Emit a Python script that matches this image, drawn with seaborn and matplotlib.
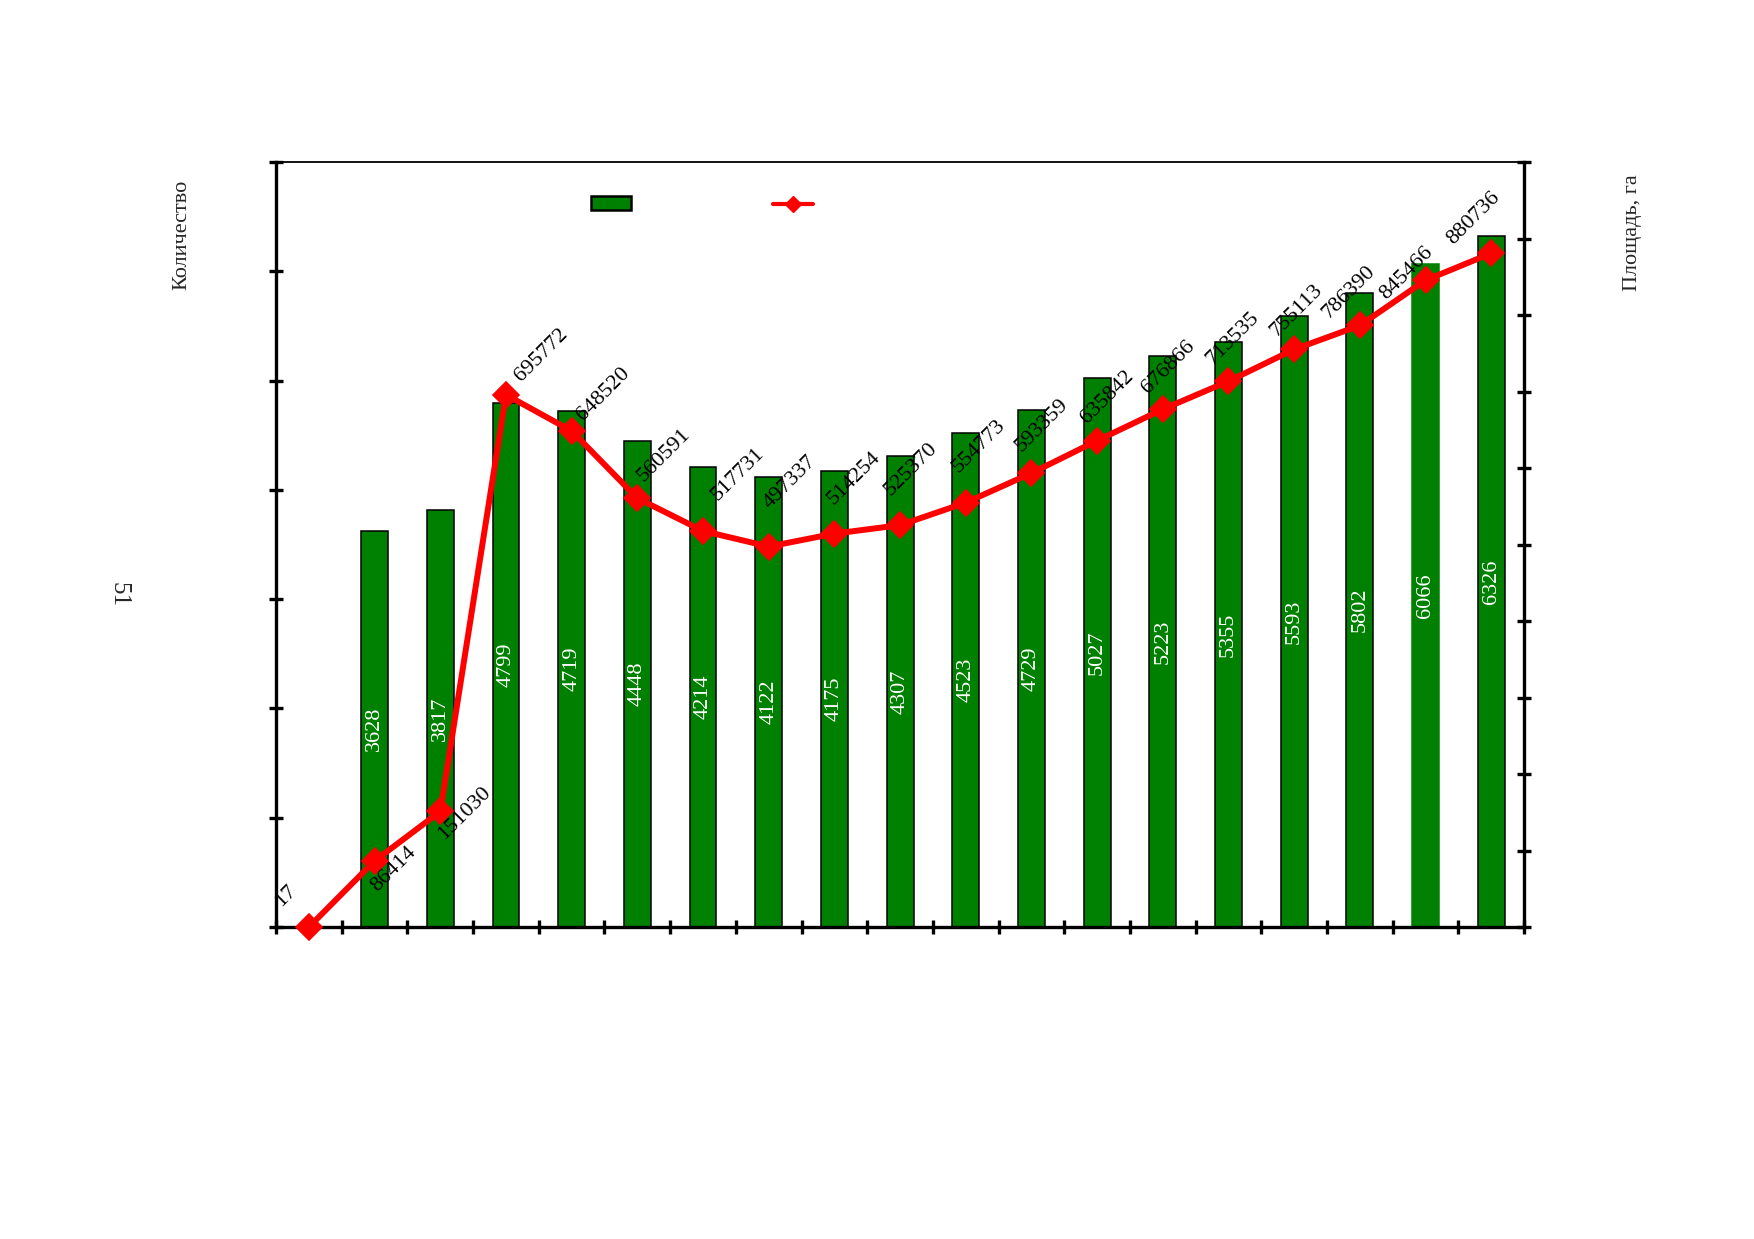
import matplotlib
matplotlib.use('Agg')
import matplotlib.pyplot as plt
from matplotlib.patches import Patch
from matplotlib.lines import Line2D
import numpy as np
import pandas as pd
import seaborn as sns

# категории (подписей по оси X на рисунке нет)
periods = [str(i) for i in range(1, 20)]

# количество (столбцы, левая ось)
counts = [np.nan, 3628, 3817, 4799, 4719, 4448, 4214, 4122, 4175, 4307,
          4523, 4729, 5027, 5223, 5355, 5593, 5802, 6066, 6326]

# площадь, га (линия, правая ось)
area = [17, 86414, 151030, 695772, 648520, 560591, 517731, 497337, 514254,
        525370, 554773, 593359, 635842, 676866, 713535, 755113, 786390,
        845466, 880736]

# сдвиг подписей линии, пиксели
label_shift = [(-23, 31), (19, -8), (24, -2), (35, 40), (32, 37), (27, 43),
               (35, 57), (21, 64), (20, 55), (11, 56), (13, 56), (11, 48),
               (10, 43), (6, 42), (4, 43), (2, 39), (-11, 33), (-19, 7),
               (-18, 35)]

GREEN = '#008000'

sns.set_theme(style='white')
plt.rcParams['font.family'] = ['Liberation Serif', 'DejaVu Serif']

df = pd.DataFrame({'period': periods, 'count': counts, 'area': area})

fig = plt.figure(figsize=(17.54, 12.39), dpi=100)
ax = fig.add_axes([0.1574, 0.2518, 0.7115, 0.6174])

sns.barplot(data=df, x='period', y='count', order=periods, ax=ax,
            color=GREEN, saturation=1, width=0.41, errorbar=None,
            edgecolor='black', linewidth=1.1)

# у предпоследнего столбца нет чёрной рамки
for p in ax.patches:
    if p.get_height() == counts[17]:
        p.set_edgecolor(GREEN)

for cont in ax.containers:
    ax.bar_label(cont, fmt='{:.0f}', label_type='center', rotation=90,
                 color='white', fontsize=16)

ax.set_ylim(0, 7000)
ax.set_xlim(-0.5, len(periods) - 0.5)
ax.set_yticks(np.arange(0, 7001, 1000))
ax.set_xticks(np.arange(-0.5, len(periods), 1))
ax.tick_params(axis='both', direction='inout', length=10, width=2.4,
               labelleft=False, labelbottom=False, left=True, bottom=True,
               color='black')
ax.set_xlabel('')
ax.set_ylabel('')
for s in ['left', 'bottom']:
    ax.spines[s].set_linewidth(2.4)
    ax.spines[s].set_color('black')
ax.spines['top'].set_linewidth(1.3)
ax.spines['top'].set_color('black')
ax.spines['right'].set_visible(False)

ax2 = ax.twinx()
sns.pointplot(data=df, x='period', y='area', order=periods, ax=ax2,
              color='red', markers='D', markersize=11.5, linewidth=4.3,
              errorbar=None)
for ln in ax2.lines:
    ln.set_clip_on(False)

for i, v in enumerate(area):
    ax2.annotate(f'{v}', (i, v), xytext=label_shift[i],
                 textcoords='offset pixels', rotation=45,
                 ha='center', va='center', fontsize=16, color='black')

ax2.set_ylim(0, 1000000)
ax2.set_xlim(-0.5, len(periods) - 0.5)
ax2.set_yticks(np.arange(0, 1000001, 100000))
ax2.tick_params(axis='y', direction='inout', length=10, width=2.4,
                labelright=False, right=True, color='black')
ax2.set_xlabel('')
ax2.set_ylabel('')
for s in ['left', 'top', 'bottom']:
    ax2.spines[s].set_visible(False)
ax2.spines['right'].set_linewidth(2.4)
ax2.spines['right'].set_color('black')
ax.set_xticks(np.arange(-0.5, len(periods), 1))
ax.set_xticklabels([''] * (len(periods) + 1))

handles = [Patch(facecolor=GREEN, edgecolor='black', linewidth=1.8),
           Line2D([], [], color='red', lw=3, marker='D', markersize=8)]
ax2.legend(handles=handles, labels=['', ''], ncol=2, frameon=False,
           loc='center', bbox_to_anchor=(702 / 1754, 1 - 206 / 1239),
           bbox_transform=fig.transFigure, handlelength=1.8,
           handleheight=0.55, handletextpad=0, columnspacing=6.4,
           fontsize=16)

fig.text(182 / 1754, 1 - 235 / 1239, 'Количество', rotation=90,
         ha='center', va='center', fontsize=16)
fig.text(1633 / 1754, 1 - 233 / 1239, 'Площадь, га', rotation=90,
         ha='center', va='center', fontsize=16)
fig.text(119 / 1754, 1 - 595 / 1239, '51', rotation=270,
         ha='center', va='center', fontsize=18)

fig.savefig('out.png', dpi=100, facecolor='white')
